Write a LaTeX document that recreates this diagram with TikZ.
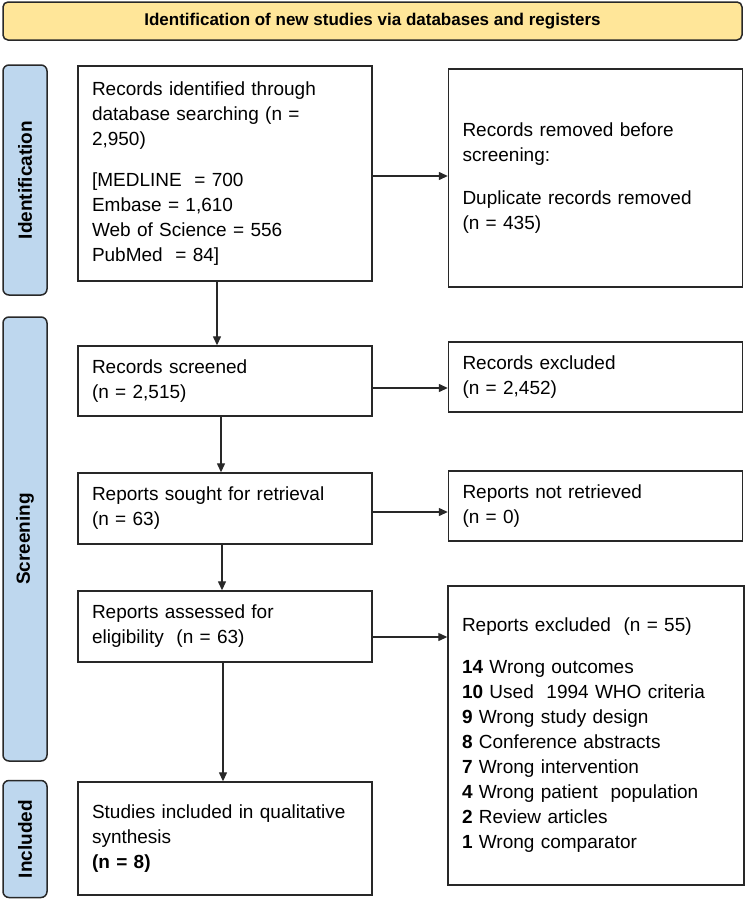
\documentclass[tikz,border=0pt]{standalone}
\usepackage{fontspec}
\setmainfont{Liberation Sans}
\usetikzlibrary{arrows.meta}
\definecolor{bannerfill}{RGB}{255,230,153}
\definecolor{barfill}{RGB}{190,215,238}
\definecolor{linec}{RGB}{40,40,40}
\begin{document}
\begin{tikzpicture}[x=1pt,y=-1pt,
  box/.style={draw=linec, line width=1.4pt, fill=white, inner xsep=14pt, inner ysep=0pt,
    align=left, text width=#1, font=\fontsize{19}{25}\selectfont},
  box/.default=266pt,
  bar/.style={draw=linec, line width=1.5pt, fill=barfill, rounded corners=6pt, rotate=90,
    inner sep=0pt, minimum height=44pt, font=\bfseries\fontsize{19}{22}\selectfont},
  arr/.style={draw=linec, line width=1.3pt, -{Triangle[length=9pt,width=8pt]}}]
\useasboundingbox (0,0) rectangle (750,900);

% banner
\node[draw=linec, line width=1.5pt, fill=bannerfill, rounded corners=5pt,
  minimum width=739pt, minimum height=38pt, inner sep=0pt,
  font=\bfseries\fontsize{17}{20}\selectfont] (banner) at (372.5,21)
  {Identification of new studies via databases and registers};

% phase bars
\node[bar, minimum width=230pt] (idbar) at (25,180) {Identification};
\node[bar, minimum width=444pt] (scbar) at (25,539) {Screening};
\node[bar, minimum width=117pt] (inbar) at (25,839) {Included};

% boxes
\node[box, minimum height=215pt] (b1) at (225,173.5)
  {Records identified through\\database searching (n =\\2,950)\\[16pt]
   [MEDLINE \ = 700\\Embase = 1,610\\Web of Science = 556\\PubMed \ = 84]};
\node[box, minimum height=218pt] (b2) at (595.5,178)
  {Records removed before\\screening:\\[18pt]Duplicate records removed\\(n = 435)};
\node[box, minimum height=70pt] (rs) at (225,381)
  {Records screened\\(n = 2,515)};
\node[box, minimum height=70pt] (re) at (595.5,377)
  {Records excluded\\(n = 2,452)};
\node[box, minimum height=71pt] (rsr) at (225,508.5)
  {Reports sought for retrieval\\(n = 63)};
\node[box, minimum height=70pt] (rnr) at (595.5,506)
  {Reports not retrieved\\(n = 0)};
\node[box, minimum height=71pt] (ra) at (225,626.5)
  {Reports assessed for\\eligibility \ (n = 63)};
\node[box=268pt, minimum height=299pt] (rex) at (596,735.5)
  {Reports excluded \ (n = 55)\\[17pt]
   \textbf{14} Wrong outcomes\\
   \textbf{10} Used \ 1994 WHO criteria\\
   \textbf{9} Wrong study design\\
   \textbf{8} Conference abstracts\\
   \textbf{7} Wrong intervention\\
   \textbf{4} Wrong patient \ population\\
   \textbf{2} Review articles\\
   \textbf{1} Wrong comparator};
\node[box, minimum height=113pt] (si) at (225,838.5)
  {Studies included in qualitative\\synthesis\\\textbf{(n = 8)}};

% vertical arrows
\draw[arr] ([xshift=-8pt]b1.south) -- ([xshift=-8pt]b1.south |- rs.north);
\draw[arr] ([xshift=-4pt]rs.south) -- ([xshift=-4pt]rs.south |- rsr.north);
\draw[arr] ([xshift=-3pt]rsr.south) -- ([xshift=-3pt]rsr.south |- ra.north);
\draw[arr] ([xshift=-2pt]ra.south) -- ([xshift=-2pt]ra.south |- si.north);

% horizontal arrows
\draw[arr] ([yshift=-2.5pt]b1.east) -- ([yshift=-2.5pt]b1.east -| b2.west);
\draw[arr] ([yshift=-7pt]rs.east) -- ([yshift=-7pt]rs.east -| re.west);
\draw[arr] ([yshift=-3.5pt]rsr.east) -- ([yshift=-3.5pt]rsr.east -| rnr.west);
\draw[arr] ([yshift=-10.5pt]ra.east) -- ([yshift=-10.5pt]ra.east -| rex.west);
\end{tikzpicture}
\end{document}
